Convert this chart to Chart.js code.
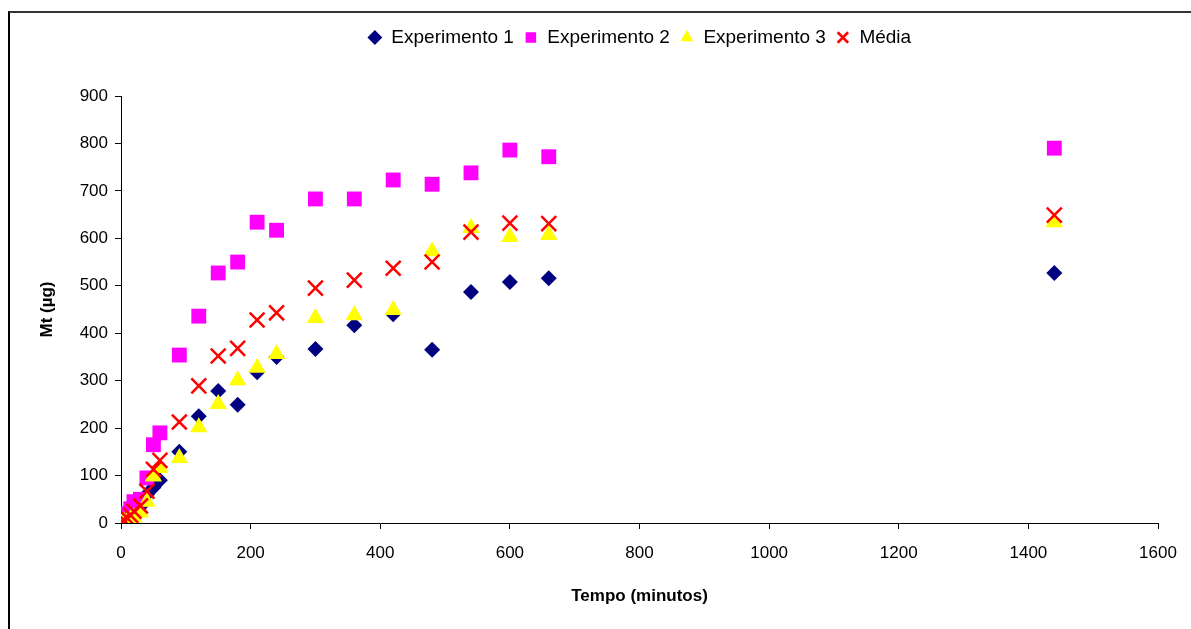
<!DOCTYPE html>
<html lang="pt">
<head>
  <meta charset="UTF-8">
  <title>Mt x Tempo</title>
  <style>
    html, body { margin: 0; padding: 0; overflow: hidden; background: #fff; }
    .frame {
      position: absolute; left: 8px; top: 11px; width: 1300px; height: 700px;
      border-left: 2px solid #000; border-top: 2px solid #333;
    }
    canvas { position: absolute; left: 0; top: 0; }
  </style>
</head>
<body>
  <div class="frame"></div>
  <canvas id="chart" width="1191" height="629"></canvas>

  <script src="https://cdn.jsdelivr.net/npm/chart.js"></script>
  <script>
    // tempo em minutos
    const tempo = [0, 5, 10, 15, 20, 30, 40, 50, 60, 90, 120, 150, 180, 210, 240, 300, 360, 420, 480, 540, 600, 660, 1440]
    const exp1  = [0, 2, 5, 10, 18, 35, 60, 75, 90, 150, 225, 278, 249, 318, 350, 367, 417, 440, 365, 487, 508, 516, 527]
    const exp2  = [5, 12, 20, 30, 45, 50, 95, 165, 190, 354, 436, 527, 550, 634, 617, 683, 683, 723, 714, 738, 786, 772, 790]
    const exp3  = [0, 2, 5, 8, 12, 22, 45, 98, 116, 137, 202, 251, 301, 327, 356, 432, 438, 449, 573, 622, 603, 607, 634]
    const media = [2, 5, 10, 16, 25, 36, 67, 113, 132, 213, 289, 352, 368, 428, 443, 495, 512, 537, 550, 613, 632, 631, 649]

    const xTicks = [0, 200, 400, 600, 800, 1000, 1200, 1400, 1600]
    const yTicks = [0, 100, 200, 300, 400, 500, 600, 700, 800, 900]

    const pts = (ys) => tempo.map((t, i) => ({x: t, y: ys[i]}))

    const family = "'Liberation Sans', Arial, sans-serif"
    const font = {family: family, size: 17}

    // make the legend take a fixed height so the plot starts where it should
    const legendHeight = {
      id: 'legendHeight',
      beforeInit(chart) {
        const fit = chart.legend.fit
        chart.legend.fit = function () {
          fit.bind(chart.legend)()
          this.height = 78
        }
      }
    }

    const chart = new Chart(document.getElementById('chart'), {
      type: 'scatter',
      data: {
        datasets: [
          { label: 'Experimento 1', data: pts(exp1), pointStyle: 'rectRot', pointRadius: 8,
            backgroundColor: '#000080', borderColor: '#000080', borderWidth: 0, order: 4 },
          { label: 'Experimento 2', data: pts(exp2), pointStyle: 'rect', pointRadius: 10.5,
            backgroundColor: '#ff00ff', borderColor: '#ff00ff', borderWidth: 0, order: 3 },
          { label: 'Experimento 3', data: pts(exp3), pointStyle: 'triangle', pointRadius: 10,
            backgroundColor: '#ffff00', borderColor: '#ffff00', borderWidth: 0, order: 2 },
          { label: 'Média', data: pts(media), pointStyle: 'crossRot', pointRadius: 10.5,
            backgroundColor: '#ff0000', borderColor: '#ff0000', borderWidth: 2.5, order: 1 }
        ]
      },
      options: {
        responsive: false,
        animation: false,
        layout: { padding: { top: 18, left: 0, right: 33, bottom: 18 } },
        plugins: {
          legend: {
            position: 'top',
            fullSize: false,
            labels: {
              usePointStyle: true,
              boxHeight: 10.5,
              boxWidth: 14,
              padding: 10,
              color: '#000',
              font: {family: family, size: 19},
              sort: (a, b) => a.datasetIndex - b.datasetIndex
            }
          },
          tooltip: { enabled: false }
        },
        scales: {
          x: {
            type: 'linear',
            min: 0, max: 1600,
            afterBuildTicks: (s) => { s.ticks = xTicks.map(v => ({value: v})) },
            afterFit: (s) => { s.height = 88 },
            grid: { drawOnChartArea: false, drawTicks: true, tickLength: 6, color: '#000' },
            border: { display: true, color: '#000', width: 1 },
            ticks: { color: '#000', font: font, padding: 14, maxRotation: 0,
                     callback: (v) => String(v) },
            title: { display: true, text: 'Tempo (minutos)', color: '#000',
                     font: {family: family, size: 17, weight: 'bold'}, padding: {top: 4, bottom: 4} }
          },
          y: {
            min: 0, max: 900,
            afterBuildTicks: (s) => { s.ticks = yTicks.map(v => ({value: v})) },
            afterFit: (s) => { s.width = 121 },
            grid: { drawOnChartArea: false, drawTicks: true, tickLength: 6, color: '#000' },
            border: { display: true, color: '#000', width: 1 },
            ticks: { color: '#000', font: font, padding: 7, callback: (v) => String(v) },
            title: { display: true, text: 'Mt (\u00b5g)', color: '#000',
                     font: {family: family, size: 17, weight: 'bold'}, padding: {top: 37, bottom: 4} }
          }
        }
      },
      plugins: [legendHeight]
    })
  </script>
</body>
</html>
